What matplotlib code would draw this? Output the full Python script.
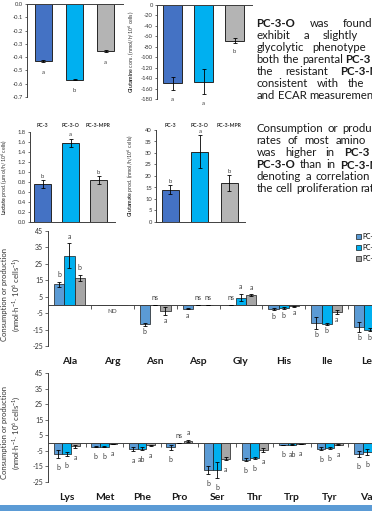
import numpy as np
import matplotlib
matplotlib.use('Agg')
import matplotlib.pyplot as plt
import matplotlib.transforms as mtrans
from matplotlib.patches import Rectangle

plt.rcParams['font.family'] = ['Lato', 'DejaVu Sans']
plt.rcParams['mathtext.fontset'] = 'custom'
plt.rcParams['mathtext.rm'] = 'Lato'
plt.rcParams['mathtext.bf'] = 'Lato:bold'
plt.rcParams['mathtext.it'] = 'Lato:italic'
plt.rcParams['axes.unicode_minus'] = False

W, H, DPI = 372, 511, 100
nan = np.nan

# ---------------- data ----------------
cell_lines = ['PC-3', 'PC-3-O', 'PC-3-MPR']

glc_mean = [-0.43, -0.57, -0.355]
glc_err = [0.005, 0.005, 0.005]
glc_letters = ['a', 'b', 'a']

gln_mean = [-150, -147, -68]
gln_err = [13, 24, 4]
gln_letters = ['a', 'a', 'b']

lac_mean = [0.75, 1.58, 0.83]
lac_err = [0.08, 0.08, 0.08]
lac_letters = ['b', 'a', 'b']

glu_mean = [14, 30.5, 17]
glu_err = [2, 7.2, 3.5]
glu_letters = ['b', 'a', 'b']

aa_row1 = ['Ala', 'Arg', 'Asn', 'Asp', 'Gly', 'His', 'Ile', 'Leu']
r1_pc3 = [12.5, nan, -11.7, -2.3, 0, -2.5, -11, -13.4]
r1_pc3o = [30, nan, 0, 0, 4.5, -2.0, -11.5, -15]
r1_mpr = [16.5, nan, -3.5, 0, 6, -0.7, -4.3, -4]
r1_pc3_err = [1.5, nan, 1, 0.3, 0, 0.8, 3.5, 3]
r1_pc3o_err = [7.5, nan, 0, 0, 2.2, 0.5, 0.5, 1]
r1_mpr_err = [2, nan, 2.5, 0, 0.5, 0.3, 1, 1]
r1_pc3_let = ['b', '', 'b', 'a', 'ns', 'b', 'b', 'b']
r1_pc3o_let = ['a', '', 'ns', 'ns', 'a', 'b', 'b', 'b']
r1_mpr_let = ['b', '', 'a', 'ns', 'a', 'a', 'a', 'a']

aa_row2 = ['Lys', 'Met', 'Phe', 'Pro', 'Ser', 'Thr', 'Trp', 'Tyr', 'Val']
r2_pc3 = [-7, -2.5, -3.8, -2.8, -17.3, -10.7, -1.3, -3.6, -7]
r2_pc3o = [-7, -2.5, -3.5, 0, -17.3, -9.6, -1.0, -3.2, -5.6]
r2_mpr = [-2, -0.7, -1.5, 1.5, -10, -4.5, -0.5, -1, -2]
r2_pc3_err = [2.5, 0.3, 1, 1.5, 2.5, 1, 0.2, 1, 2]
r2_pc3o_err = [1.5, 0.3, 1, 0, 5, 0.5, 0.2, 0.5, 2]
r2_mpr_err = [1, 0.2, 0.3, 0.5, 1, 1.5, 0.1, 0.3, 0.5]
r2_pc3_let = ['b', 'b', 'a', 'b', 'b', 'b', 'b', 'b', 'b']
r2_pc3o_let = ['b', 'b', 'ab', 'ns', 'b', 'b', 'ab', 'b', 'b']
r2_mpr_let = ['a', 'a', 'a', 'a', 'a', 'a', 'a', 'a', 'a']

top_colors = ['#4472C4', '#00B0F0', '#B4B4B4']
aa_colors = ['#5B9BD5', '#00B0F0', '#A6A6A6']

para1 = [
    ([('PC-3-O', 1), ('was', 0), ('found', 0), ('to', 0)], True),
    ([('exhibit', 0), ('a', 0), ('slightly', 0), ('more', 0)], True),
    ([('glycolytic', 0), ('phenotype', 0), ('than', 0)], True),
    ([('both', 0), ('the', 0), ('parental', 0), ('PC-3', 1), ('and', 0)], False),
    ([('the', 0), ('resistant', 0), ('PC-3-MPR,', 1)], True),
    ([('consistent', 0), ('with', 0), ('the', 0), ('OCR', 0)], True),
    ([('and', 0), ('ECAR', 0), ('measurements.', 0)], False),
]
para2 = [
    ([('Consumption', 0), ('or', 0), ('production', 0)], True),
    ([('rates', 0), ('of', 0), ('most', 0), ('amino', 0), ('acids', 0)], True),
    ([('was', 0), ('higher', 0), ('in', 0), ('PC-3', 1), ('and', 0)], True),
    ([('PC-3-O', 1), ('than', 0), ('in', 0), ('PC-3-MPR,', 1)], True),
    ([('denoting', 0), ('a', 0), ('correlation', 0), ('with', 0)], True),
    ([('the', 0), ('cell', 0), ('proliferation', 0), ('rate', 0)], False),
]

# ---------------- helpers ----------------
fig = plt.figure(figsize=(W / DPI, H / DPI), dpi=DPI)


def fy(py):
    return 1 - py / H


def add_ax(x0, y0, x1, y1):
    return fig.add_axes([x0 / W, 1 - y1 / H, (x1 - x0) / W, (y1 - y0) / H])


def px2pt(p):
    return p * 72 / DPI


TXT = '#404040'


def small_panel(ax, mean, err, letters, ylim, yticks, fmt, xlim, width,
                ylabel, label_x, letter_off, tickfs=4.2):
    x = np.arange(3)
    ax.bar(x, mean, width=width, color=top_colors, edgecolor='#262626', linewidth=0.7, zorder=2)
    ax.errorbar(x, mean, yerr=err, fmt='none', ecolor='black', elinewidth=0.6,
                capsize=1.5, capthick=0.6, zorder=3)
    ax.set_xlim(*xlim)
    ax.set_ylim(*ylim)
    ax.set_yticks(yticks)
    ax.set_yticklabels([fmt.format(v) for v in yticks])
    ax.tick_params(axis='y', labelsize=tickfs, length=1.5, width=0.5, pad=1.5,
                   colors='#333333')
    ax.set_xticks([])
    for s in ['top', 'right']:
        ax.spines[s].set_visible(False)
    ax.spines['bottom'].set_position(('data', 0))
    for s in ['left', 'bottom']:
        ax.spines[s].set_color('#404040')
        ax.spines[s].set_linewidth(0.7)
    ax.set_ylabel(ylabel, fontsize=3.8, color='#333333')
    ax.yaxis.set_label_coords(label_x, 0.5)
    for i, (m, e, l) in enumerate(zip(mean, err, letters)):
        end = m + e if m >= 0 else m - e
        off = letter_off if m >= 0 else -letter_off
        ax.annotate(l, (i, end), xytext=(0, px2pt(off)), textcoords='offset points',
                    ha='center', va='center', fontsize=4.3, color=TXT)


# Panel A (top-left, label cut off by the left edge)
axA = add_ax(27, 4, 123, 97)
small_panel(axA, glc_mean, glc_err, glc_letters, (-0.7, 0),
            [0, -0.1, -0.2, -0.3, -0.4, -0.5, -0.6, -0.7], '{:.1f}',
            (-0.53, 2.56), 0.56,
            r'$\bf{Glucose}$ cons. (µmol/h/10$^6$ cells)', -0.26, 10.5)

# Panel B
axB = add_ax(157, 5, 252, 99)
small_panel(axB, gln_mean, gln_err, gln_letters, (-180, 0),
            list(range(0, -181, -20)), '{:d}', (-0.5, 2.56), 0.6,
            r'$\bf{Glutamine}$ cons. (nmol/h/10$^6$ cells)', -0.22, 9)

# Panel C
axC = add_ax(30, 132, 115, 222)
small_panel(axC, lac_mean, lac_err, lac_letters, (0, 1.8),
            [0, 0.2, 0.4, 0.6, 0.8, 1.0, 1.2, 1.4, 1.6, 1.8], '{:.1f}',
            (-0.45, 2.59), 0.6,
            r'$\bf{Lactate}$ prod. (µmol/h/10$^6$ cells)', -0.235, 4.5)

# Panel D
axD = add_ax(156, 130, 245, 222)
small_panel(axD, glu_mean, glu_err, glu_letters, (0, 40),
            list(range(0, 41, 5)), '{:d}', (-0.49, 2.53), 0.58,
            r'$\bf{Glutamate}$ prod. (nmol/h/10$^6$ cells)', -0.225, 3.8)

for ax in (axC, axD):
    tr = mtrans.blended_transform_factory(ax.transData, fig.transFigure)
    for i, name in enumerate(cell_lines):
        ax.text(i, fy(125.5), name, transform=tr, ha='center', va='center',
                fontsize=3.8, fontweight='bold', color='#333333')


# amino-acid panels
def aa_panel(ax, cats, series, errs, lets, bw, neg_off, pos_off, cat_y):
    n = len(cats)
    x = np.arange(n)
    handles = []
    for k in range(3):
        xs = x + (k - 1) * bw
        vals = np.array(series[k], dtype=float)
        ee = np.array(errs[k], dtype=float)
        h = ax.bar(xs, np.nan_to_num(vals), width=bw, color=aa_colors[k], edgecolor='#1a1a1a',
                   linewidth=0.5, zorder=2, label=cell_lines[k])
        handles.append(h)
        ok = ~np.isnan(vals)
        ax.errorbar(xs[ok], vals[ok], yerr=ee[ok], fmt='none', ecolor='black',
                    elinewidth=0.6, capsize=1.1, capthick=0.6, zorder=3)
        for xi, v, e, l in zip(xs, vals, ee, lets[k]):
            if not l or np.isnan(v):
                continue
            if v < 0:
                ax.annotate(l, (xi, v - e), xytext=(0, -px2pt(neg_off)), textcoords='offset points',
                            ha='center', va='center', fontsize=5, color=TXT)
            else:
                ax.annotate(l, (xi, v + e), xytext=(0, px2pt(pos_off)), textcoords='offset points',
                            ha='center', va='center', fontsize=5, color=TXT)
    ax.set_xlim(-0.5, n - 0.5)
    ax.set_ylim(-25, 45)
    ax.set_yticks(list(range(-25, 46, 10)))
    ax.tick_params(axis='y', labelsize=5, length=2, width=0.5, pad=1.5, colors='#333333')
    ax.set_xticks(np.arange(n - 1) + 0.5)
    ax.set_xticklabels([])
    ax.tick_params(axis='x', length=3, width=0.6, direction='out', color='#404040')
    for s in ['top', 'right']:
        ax.spines[s].set_visible(False)
    ax.spines['bottom'].set_position(('data', 0))
    for s in ['left', 'bottom']:
        ax.spines[s].set_color('#404040')
        ax.spines[s].set_linewidth(0.7)
    ax.set_ylabel('Consumption or production\n(nmol$\\cdot$h$^{-1}$$\\cdot$ 10$^6$ cells$^{-1}$)',
                  fontsize=5.5, color='#333333', linespacing=1.3)
    ax.yaxis.set_label_coords((22 - 48) / (ax.get_position().width * W), 0.45)
    tr = mtrans.blended_transform_factory(ax.transData, fig.transFigure)
    for i, c in enumerate(cats):
        ax.text(i, fy(cat_y), c, transform=tr, ha='center', va='center',
                fontsize=7.5, fontweight='bold', color='#1a1a1a')
    return handles


ax1 = add_ax(48, 231, 391, 346)
h1 = aa_panel(ax1, aa_row1, [r1_pc3, r1_pc3o, r1_mpr], [r1_pc3_err, r1_pc3o_err, r1_mpr_err],
              [r1_pc3_let, r1_pc3o_let, r1_mpr_let], 0.24, 6, 7, 361)
ax1.text(1, -3.7, 'ND', ha='center', va='center', fontsize=4.5, color=TXT)
ax1.legend(handles=h1, loc='upper left', bbox_to_anchor=(355.5 / W, fy(233)),
           bbox_transform=fig.transFigure, fontsize=4.8, handlelength=0.8,
           handleheight=0.8, handletextpad=0.3, labelspacing=0.6, borderpad=0,
           borderaxespad=0, frameon=False)

ax2 = add_ax(48, 373, 386, 482)
aa_panel(ax2, aa_row2, [r2_pc3, r2_pc3o, r2_mpr], [r2_pc3_err, r2_pc3o_err, r2_mpr_err],
         [r2_pc3_let, r2_pc3o_let, r2_mpr_let], 0.23, 9.5, 7.5, 497)

# bottom band
fig.patches.append(Rectangle((0, 0), 1, 6 / H, transform=fig.transFigure,
                             facecolor='#5B9BD5', edgecolor='none'))

# paragraph text (justified)
renderer = fig.canvas.get_renderer()
FS = 8.2


def measure(s, bold):
    t = fig.text(0, 0, s, fontsize=FS, fontweight='bold' if bold else 'normal')
    w = t.get_window_extent(renderer).width
    t.remove()
    return w


space_w = measure('a a', 0) - measure('aa', 0)


def draw_para(lines, x0, y0, lh, R):
    for i, (words, just) in enumerate(lines):
        y = fy(y0 + i * lh)
        ts, ws = [], []
        for w, b in words:
            t = fig.text(0, y, w, fontsize=FS, fontweight='bold' if b else 'normal',
                         va='center', ha='left', color='#1a1a1a')
            ts.append(t)
            ws.append(t.get_window_extent(renderer).width)
        gap = (R - x0 - sum(ws)) / (len(ws) - 1) if just and len(ws) > 1 else space_w
        gap = max(gap, space_w)
        x = x0
        for t, w in zip(ts, ws):
            t.set_x(x / W)
            x += w + gap


draw_para(para1, 256.5, 23, 12, 397)
draw_para(para2, 256.5, 129, 12, 397)

fig.savefig('out.png', dpi=DPI)
